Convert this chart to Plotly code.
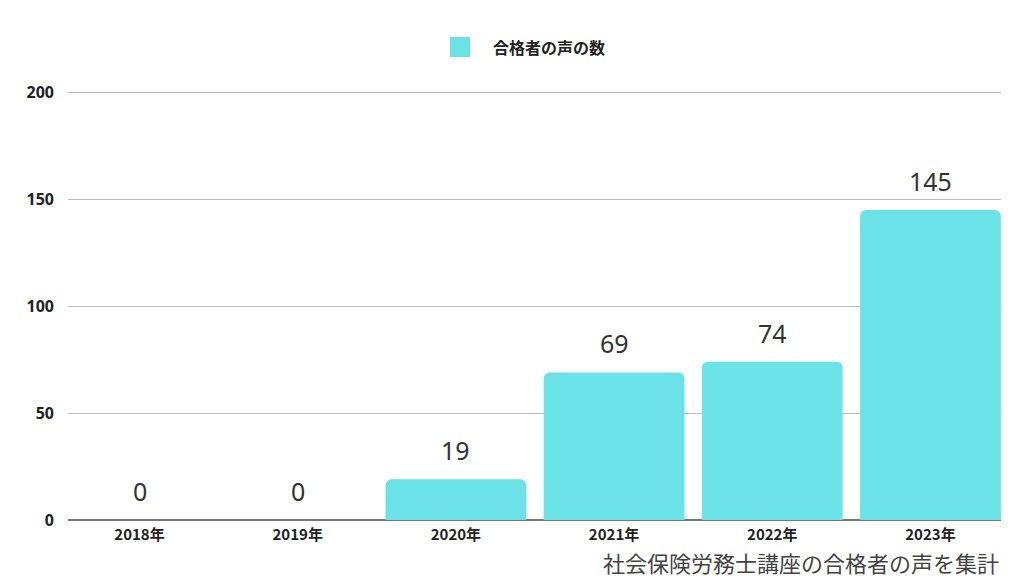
import plotly.graph_objects as go

categories = ["2018年", "2019年", "2020年", "2021年", "2022年", "2023年"]
values = [0, 0, 19, 69, 74, 145]
series_name = "合格者の声の数"
y_ticks = [0, 50, 100, 150, 200]
caption = "社会保険労務士講座の合格者の声を集計"

x_pos = list(range(len(categories)))
bar_color = "#6BE3E6"
font_jp = "Noto Sans CJK JP, Noto Sans, sans-serif"

# the page shows the figure with an 8px offset; margins compensate
W, H = 1024, 576
ml, mr, mt, mb = 60, 31, 83, 64

fig = go.Figure()
fig.add_trace(go.Bar(
    x=x_pos, y=values, name=series_name,
    marker=dict(color=bar_color, line=dict(width=0)),
    width=0.89,
    showlegend=False,
))

for xi, v in zip(x_pos, values):
    fig.add_annotation(
        x=xi, y=v, text=str(v), showarrow=False,
        yanchor="bottom", yshift=10,
        font=dict(family="Noto Sans, sans-serif", size=25, color="#333333"),
    )

# caption
fig.add_annotation(
    xref="paper", yref="paper", x=1.0, y=0, yshift=-42,
    xanchor="right", yanchor="middle", showarrow=False,
    text=caption,
    font=dict(family=font_jp, size=22, color="#444444"),
)

# custom legend (larger swatch than plotly's default)
pw = W - ml - mr
ph = H - mt - mb
def px_to_paper_x(px):
    return (px - ml) / pw
def px_to_paper_y(py):
    return (H - mb - py) / ph

fig.add_shape(
    type="rect", xref="paper", yref="paper",
    x0=px_to_paper_x(442), x1=px_to_paper_x(462),
    y0=px_to_paper_y(49), y1=px_to_paper_y(29),
    fillcolor=bar_color, line=dict(width=0),
)
fig.add_annotation(
    xref="paper", yref="paper",
    x=px_to_paper_x(483), y=px_to_paper_y(39),
    xanchor="left", yanchor="middle", showarrow=False,
    text=series_name,
    font=dict(family=font_jp, size=16, color="#222222", weight="bold"),
)

fig.update_layout(
    width=W, height=H,
    margin=dict(l=ml, r=mr, t=mt, b=mb, pad=0),
    paper_bgcolor="white", plot_bgcolor="white",
    barcornerradius=6,
    font=dict(family=font_jp, color="#222222"),
    showlegend=False,
)

fig.update_xaxes(
    tickmode="array", tickvals=x_pos, ticktext=categories,
    range=[-0.452, 5.446],
    showgrid=False, zeroline=False, showline=False,
    ticks="", ticklen=0,
    ticklabelstandoff=4,
    tickfont=dict(family=font_jp, size=15, color="#222222", weight="bold"),
)
fig.update_yaxes(
    range=[0, 200.6], tickvals=y_ticks,
    showgrid=True, gridcolor="#BDBDBD", gridwidth=1,
    zeroline=True, zerolinecolor="#777777", zerolinewidth=2,
    showline=False, ticks="", ticklen=0,
    ticklabelstandoff=13,
    tickfont=dict(family="Noto Sans, sans-serif", size=16, color="#222222", weight="bold"),
)

fig.write_html("out.html")
